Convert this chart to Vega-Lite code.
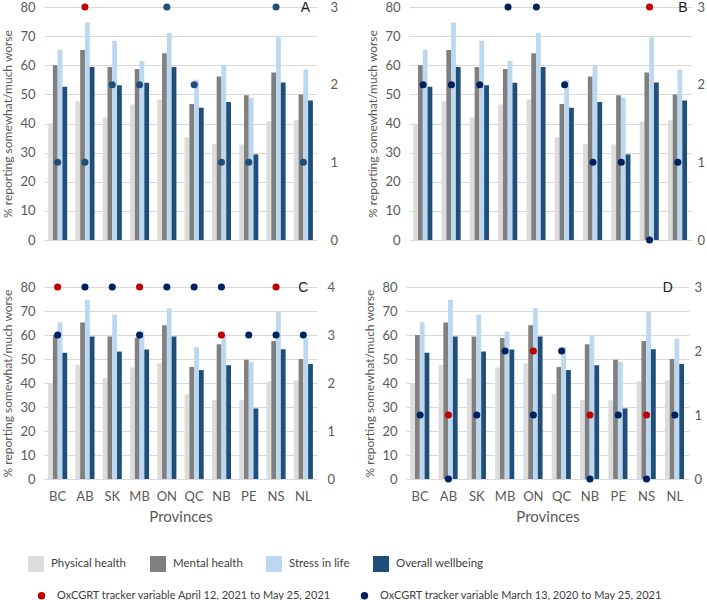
{
  "$schema": "https://vega.github.io/schema/vega-lite/v6.json",
  "padding": {"top": 1, "left": 1, "right": 0, "bottom": 0},
  "background": "white",
  "datasets": {
    "bars": [
      {"province": "BC", "measure": "Physical health", "value": 40.0},
      {"province": "BC", "measure": "Mental health", "value": 60.0},
      {"province": "BC", "measure": "Stress in life", "value": 65.3},
      {"province": "BC", "measure": "Overall wellbeing", "value": 52.6},
      {"province": "AB", "measure": "Physical health", "value": 47.6},
      {"province": "AB", "measure": "Mental health", "value": 65.2},
      {"province": "AB", "measure": "Stress in life", "value": 74.7},
      {"province": "AB", "measure": "Overall wellbeing", "value": 59.4},
      {"province": "SK", "measure": "Physical health", "value": 42.0},
      {"province": "SK", "measure": "Mental health", "value": 59.4},
      {"province": "SK", "measure": "Stress in life", "value": 68.4},
      {"province": "SK", "measure": "Overall wellbeing", "value": 53.1},
      {"province": "MB", "measure": "Physical health", "value": 46.5},
      {"province": "MB", "measure": "Mental health", "value": 58.7},
      {"province": "MB", "measure": "Stress in life", "value": 61.5},
      {"province": "MB", "measure": "Overall wellbeing", "value": 54.0},
      {"province": "ON", "measure": "Physical health", "value": 48.2},
      {"province": "ON", "measure": "Mental health", "value": 64.1},
      {"province": "ON", "measure": "Stress in life", "value": 71.1},
      {"province": "ON", "measure": "Overall wellbeing", "value": 59.4},
      {"province": "QC", "measure": "Physical health", "value": 35.3},
      {"province": "QC", "measure": "Mental health", "value": 46.7},
      {"province": "QC", "measure": "Stress in life", "value": 55.0},
      {"province": "QC", "measure": "Overall wellbeing", "value": 45.4},
      {"province": "NB", "measure": "Physical health", "value": 33.0},
      {"province": "NB", "measure": "Mental health", "value": 56.1},
      {"province": "NB", "measure": "Stress in life", "value": 60.0},
      {"province": "NB", "measure": "Overall wellbeing", "value": 47.4},
      {"province": "PE", "measure": "Physical health", "value": 32.8},
      {"province": "PE", "measure": "Mental health", "value": 49.7},
      {"province": "PE", "measure": "Stress in life", "value": 48.8},
      {"province": "PE", "measure": "Overall wellbeing", "value": 29.4},
      {"province": "NS", "measure": "Physical health", "value": 40.7},
      {"province": "NS", "measure": "Mental health", "value": 57.5},
      {"province": "NS", "measure": "Stress in life", "value": 69.6},
      {"province": "NS", "measure": "Overall wellbeing", "value": 54.1},
      {"province": "NL", "measure": "Physical health", "value": 41.1},
      {"province": "NL", "measure": "Mental health", "value": 50.0},
      {"province": "NL", "measure": "Stress in life", "value": 58.5},
      {"province": "NL", "measure": "Overall wellbeing", "value": 47.9}
    ],
    "dots": [
      {"panel": "A", "province": "BC", "period": "March", "value": 1},
      {"panel": "A", "province": "AB", "period": "April", "value": 3},
      {"panel": "A", "province": "AB", "period": "March", "value": 1},
      {"panel": "A", "province": "SK", "period": "March", "value": 2},
      {"panel": "A", "province": "MB", "period": "March", "value": 2},
      {"panel": "A", "province": "ON", "period": "March", "value": 3},
      {"panel": "A", "province": "QC", "period": "March", "value": 2},
      {"panel": "A", "province": "NB", "period": "March", "value": 1},
      {"panel": "A", "province": "PE", "period": "March", "value": 1},
      {"panel": "A", "province": "NS", "period": "March", "value": 3},
      {"panel": "A", "province": "NL", "period": "March", "value": 1},
      {"panel": "B", "province": "BC", "period": "March", "value": 2},
      {"panel": "B", "province": "AB", "period": "March", "value": 2},
      {"panel": "B", "province": "SK", "period": "March", "value": 2},
      {"panel": "B", "province": "MB", "period": "March", "value": 3},
      {"panel": "B", "province": "ON", "period": "March", "value": 3},
      {"panel": "B", "province": "QC", "period": "March", "value": 2},
      {"panel": "B", "province": "NB", "period": "March", "value": 1},
      {"panel": "B", "province": "PE", "period": "March", "value": 1},
      {"panel": "B", "province": "NS", "period": "April", "value": 3},
      {"panel": "B", "province": "NS", "period": "March", "value": 0},
      {"panel": "B", "province": "NL", "period": "March", "value": 1},
      {"panel": "C", "province": "BC", "period": "April", "value": 4},
      {"panel": "C", "province": "BC", "period": "March", "value": 3},
      {"panel": "C", "province": "AB", "period": "March", "value": 4},
      {"panel": "C", "province": "SK", "period": "March", "value": 4},
      {"panel": "C", "province": "MB", "period": "April", "value": 4},
      {"panel": "C", "province": "MB", "period": "March", "value": 3},
      {"panel": "C", "province": "ON", "period": "March", "value": 4},
      {"panel": "C", "province": "QC", "period": "March", "value": 4},
      {"panel": "C", "province": "NB", "period": "March", "value": 4},
      {"panel": "C", "province": "NB", "period": "April", "value": 3},
      {"panel": "C", "province": "PE", "period": "March", "value": 3},
      {"panel": "C", "province": "NS", "period": "April", "value": 4},
      {"panel": "C", "province": "NS", "period": "March", "value": 3},
      {"panel": "C", "province": "NL", "period": "March", "value": 3},
      {"panel": "D", "province": "BC", "period": "March", "value": 1},
      {"panel": "D", "province": "AB", "period": "April", "value": 1},
      {"panel": "D", "province": "AB", "period": "March", "value": 0},
      {"panel": "D", "province": "SK", "period": "March", "value": 1},
      {"panel": "D", "province": "MB", "period": "March", "value": 2},
      {"panel": "D", "province": "ON", "period": "April", "value": 2},
      {"panel": "D", "province": "ON", "period": "March", "value": 1},
      {"panel": "D", "province": "QC", "period": "March", "value": 2},
      {"panel": "D", "province": "NB", "period": "April", "value": 1},
      {"panel": "D", "province": "NB", "period": "March", "value": 0},
      {"panel": "D", "province": "PE", "period": "March", "value": 1},
      {"panel": "D", "province": "NS", "period": "April", "value": 1},
      {"panel": "D", "province": "NS", "period": "March", "value": 0},
      {"panel": "D", "province": "NL", "period": "March", "value": 1}
    ]
  },
  "config": {
    "view": {"stroke": null},
    "font": "Lato",
    "axis": {
      "labelFont": "Lato",
      "titleFont": "Lato",
      "labelFontSize": 13,
      "labelColor": "#595959",
      "titleColor": "#595959",
      "titleFontSize": 12,
      "titleFontWeight": "normal",
      "ticks": false,
      "domain": false,
      "gridColor": "#D9D9D9",
      "gridWidth": 1
    },
    "legend": {
      "labelFont": "Lato",
      "labelFontSize": 11.5,
      "labelColor": "#404040",
      "padding": 0,
      "labelLimit": 0
    }
  },
  "spacing": 34,
  "vconcat": [
    {
      "spacing": 28,
      "hconcat": [
        {
          "width": 273,
          "height": 233,
          "resolve": {"scale": {"y": "independent"}},
          "layer": [
            {
              "data": {"name": "bars"},
              "mark": {"type": "bar"},
              "encoding": {
                "x": {"field": "province", "type": "nominal", "sort": ["BC","AB","SK","MB","ON","QC","NB","PE","NS","NL"], "scale": {"paddingInner": 0.3, "paddingOuter": 0.15}, "axis": null},
                "xOffset": {"field": "measure", "type": "nominal", "sort": ["Physical health","Mental health","Stress in life","Overall wellbeing"], "scale": {"paddingInner": 0, "paddingOuter": 0}},
                "y": {"field": "value", "type": "quantitative", "stack": null, "scale": {"domain": [0, 80]}, "axis": {"values": [0,10,20,30,40,50,60,70,80], "grid": true, "title": "% reporting somewhat/much worse", "labelPadding": 9, "titlePadding": 5}},
                "color": {"field": "measure", "type": "nominal", "sort": ["Physical health","Mental health","Stress in life","Overall wellbeing"], "scale": {"domain": ["Physical health","Mental health","Stress in life","Overall wellbeing"], "range": ["#DCDCDC","#808080","#BDD7EE","#1F4E79"]}, "legend": {"title": null, "orient": "none", "legendX": -16, "legendY": 549, "direction": "horizontal", "columns": 4, "symbolType": "square", "symbolSize": 256, "symbolStrokeWidth": 0, "labelOffset": 7, "columnPadding": 23}}
              }
            },
            {
              "data": {"name": "dots"},
              "transform": [{"filter": "datum.panel === 'A'"}],
              "mark": {"type": "point", "filled": true, "size": 50, "opacity": 1},
              "encoding": {
                "x": {"field": "province", "type": "nominal", "sort": ["BC","AB","SK","MB","ON","QC","NB","PE","NS","NL"], "axis": null},
                "y": {"field": "value", "type": "quantitative", "scale": {"domain": [0, 3]}, "axis": {"orient": "right", "values": [0,1,2,3], "grid": false, "title": null, "labelPadding": 13}},
                "fill": {"condition": {"test": "datum.period === 'April'", "value": "#C00000"}, "value": "#1F4E79"}
              }
            },
            {
              "data": {"values": [{"letter": "A"}]},
              "mark": {"type": "text", "fontSize": 14, "dx": 2, "dy": 1, "color": "#1a1a1a", "font": "Liberation Sans"},
              "encoding": {
                "x": {"datum": "NL", "type": "nominal", "axis": null},
                "y": {"datum": 80, "type": "quantitative", "scale": {"domain": [0, 80]}, "axis": null},
                "text": {"field": "letter"}
              }
            }
          ]
        },
        {
          "width": 283,
          "height": 233,
          "resolve": {"scale": {"y": "independent"}},
          "layer": [
            {
              "data": {"name": "bars"},
              "mark": {"type": "bar"},
              "encoding": {
                "x": {"field": "province", "type": "nominal", "sort": ["BC","AB","SK","MB","ON","QC","NB","PE","NS","NL"], "scale": {"paddingInner": 0.3, "paddingOuter": 0.15}, "axis": null},
                "xOffset": {"field": "measure", "type": "nominal", "sort": ["Physical health","Mental health","Stress in life","Overall wellbeing"], "scale": {"paddingInner": 0, "paddingOuter": 0}},
                "y": {"field": "value", "type": "quantitative", "stack": null, "scale": {"domain": [0, 80]}, "axis": {"values": [0,10,20,30,40,50,60,70,80], "grid": true, "title": "% reporting somewhat/much worse", "labelPadding": 9, "titlePadding": 5}},
                "color": {"field": "measure", "type": "nominal", "sort": ["Physical health","Mental health","Stress in life","Overall wellbeing"], "scale": {"domain": ["Physical health","Mental health","Stress in life","Overall wellbeing"], "range": ["#DCDCDC","#808080","#BDD7EE","#1F4E79"]}, "legend": {"title": null, "orient": "none", "legendX": -16, "legendY": 549, "direction": "horizontal", "columns": 4, "symbolType": "square", "symbolSize": 256, "symbolStrokeWidth": 0, "labelOffset": 7, "columnPadding": 23}}
              }
            },
            {
              "data": {"name": "dots"},
              "transform": [{"filter": "datum.panel === 'B'"}],
              "mark": {"type": "point", "filled": true, "size": 50, "opacity": 1},
              "encoding": {
                "x": {"field": "province", "type": "nominal", "sort": ["BC","AB","SK","MB","ON","QC","NB","PE","NS","NL"], "axis": null},
                "y": {"field": "value", "type": "quantitative", "scale": {"domain": [0, 3]}, "axis": {"orient": "right", "values": [0,1,2,3], "grid": false, "title": null, "labelPadding": 5}},
                "fill": {"field": "period", "type": "nominal", "scale": {"domain": ["April","March"], "range": ["#C00000","#002060"]}, "legend": {"title": null, "orient": "none", "legendX": -8, "legendY": 583, "direction": "horizontal", "columns": 2, "symbolType": "circle", "symbolSize": 55, "symbolStrokeWidth": 0, "labelOffset": 10, "labelFontSize": 11, "columnPadding": 27, "labelExpr": "datum.label === 'April' ? 'OxCGRT tracker variable April 12, 2021 to May 25, 2021' : 'OxCGRT tracker variable March 13, 2020 to May 25, 2021'", "encode": {"symbols": {"update": {"fill": {"signal": "datum.value === 'March' ? '#44546A' : '#C00000'"}}}}}}
              }
            },
            {
              "data": {"values": [{"letter": "B"}]},
              "mark": {"type": "text", "fontSize": 14, "dx": 5, "dy": 1, "color": "#1a1a1a", "font": "Liberation Sans"},
              "encoding": {
                "x": {"datum": "NL", "type": "nominal", "axis": null},
                "y": {"datum": 80, "type": "quantitative", "scale": {"domain": [0, 80]}, "axis": null},
                "text": {"field": "letter"}
              }
            }
          ]
        }
      ]
    },
    {
      "spacing": 28,
      "hconcat": [
        {
          "width": 273,
          "height": 192,
          "resolve": {"scale": {"y": "independent"}},
          "layer": [
            {
              "data": {"name": "bars"},
              "mark": {"type": "bar"},
              "encoding": {
                "x": {"field": "province", "type": "nominal", "sort": ["BC","AB","SK","MB","ON","QC","NB","PE","NS","NL"], "scale": {"paddingInner": 0.3, "paddingOuter": 0.15}, "axis": {"title": "Provinces", "labelAngle": 0, "labelPadding": 11, "titlePadding": 6, "titleFontSize": 15, "grid": false, "labels": true}},
                "xOffset": {"field": "measure", "type": "nominal", "sort": ["Physical health","Mental health","Stress in life","Overall wellbeing"], "scale": {"paddingInner": 0, "paddingOuter": 0}},
                "y": {"field": "value", "type": "quantitative", "stack": null, "scale": {"domain": [0, 80]}, "axis": {"values": [0,10,20,30,40,50,60,70,80], "grid": true, "title": "% reporting somewhat/much worse", "labelPadding": 9, "titlePadding": 5}},
                "color": {"field": "measure", "type": "nominal", "sort": ["Physical health","Mental health","Stress in life","Overall wellbeing"], "scale": {"domain": ["Physical health","Mental health","Stress in life","Overall wellbeing"], "range": ["#DCDCDC","#808080","#BDD7EE","#1F4E79"]}, "legend": {"title": null, "orient": "none", "legendX": -16, "legendY": 549, "direction": "horizontal", "columns": 4, "symbolType": "square", "symbolSize": 256, "symbolStrokeWidth": 0, "labelOffset": 7, "columnPadding": 23}}
              }
            },
            {
              "data": {"name": "dots"},
              "transform": [{"filter": "datum.panel === 'C'"}],
              "mark": {"type": "point", "filled": true, "size": 50, "opacity": 1},
              "encoding": {
                "x": {"field": "province", "type": "nominal", "sort": ["BC","AB","SK","MB","ON","QC","NB","PE","NS","NL"], "axis": {"title": "Provinces", "labelAngle": 0, "labelPadding": 11, "titlePadding": 6, "titleFontSize": 15, "grid": false, "labels": true}},
                "y": {"field": "value", "type": "quantitative", "scale": {"domain": [0, 4]}, "axis": {"orient": "right", "values": [0,1,2,3,4], "grid": false, "title": null, "labelPadding": 10}},
                "fill": {"field": "period", "type": "nominal", "scale": {"domain": ["April","March"], "range": ["#C00000","#002060"]}, "legend": {"title": null, "orient": "none", "legendX": -8, "legendY": 583, "direction": "horizontal", "columns": 2, "symbolType": "circle", "symbolSize": 55, "symbolStrokeWidth": 0, "labelOffset": 10, "labelFontSize": 11, "columnPadding": 27, "labelExpr": "datum.label === 'April' ? 'OxCGRT tracker variable April 12, 2021 to May 25, 2021' : 'OxCGRT tracker variable March 13, 2020 to May 25, 2021'", "encode": {"symbols": {"update": {"fill": {"signal": "datum.value === 'March' ? '#44546A' : '#C00000'"}}}}}}
              }
            },
            {
              "data": {"values": [{"letter": "C"}]},
              "mark": {"type": "text", "fontSize": 14, "dx": 0, "dy": 1, "color": "#1a1a1a", "font": "Liberation Sans"},
              "encoding": {
                "x": {"datum": "NL", "type": "nominal", "axis": {"title": "Provinces", "labelAngle": 0, "labelPadding": 11, "titlePadding": 6, "titleFontSize": 15, "grid": false, "labels": true}},
                "y": {"datum": 80, "type": "quantitative", "scale": {"domain": [0, 80]}, "axis": null},
                "text": {"field": "letter"}
              }
            }
          ]
        },
        {
          "width": 283,
          "height": 192,
          "resolve": {"scale": {"y": "independent"}},
          "layer": [
            {
              "data": {"name": "bars"},
              "mark": {"type": "bar"},
              "encoding": {
                "x": {"field": "province", "type": "nominal", "sort": ["BC","AB","SK","MB","ON","QC","NB","PE","NS","NL"], "scale": {"paddingInner": 0.3, "paddingOuter": 0.15}, "axis": {"title": "Provinces", "labelAngle": 0, "labelPadding": 11, "titlePadding": 6, "titleFontSize": 15, "grid": false, "labels": true}},
                "xOffset": {"field": "measure", "type": "nominal", "sort": ["Physical health","Mental health","Stress in life","Overall wellbeing"], "scale": {"paddingInner": 0, "paddingOuter": 0}},
                "y": {"field": "value", "type": "quantitative", "stack": null, "scale": {"domain": [0, 80]}, "axis": {"values": [0,10,20,30,40,50,60,70,80], "grid": true, "title": "% reporting somewhat/much worse", "labelPadding": 9, "titlePadding": 5}},
                "color": {"field": "measure", "type": "nominal", "sort": ["Physical health","Mental health","Stress in life","Overall wellbeing"], "scale": {"domain": ["Physical health","Mental health","Stress in life","Overall wellbeing"], "range": ["#DCDCDC","#808080","#BDD7EE","#1F4E79"]}, "legend": {"title": null, "orient": "none", "legendX": -16, "legendY": 549, "direction": "horizontal", "columns": 4, "symbolType": "square", "symbolSize": 256, "symbolStrokeWidth": 0, "labelOffset": 7, "columnPadding": 23}}
              }
            },
            {
              "data": {"name": "dots"},
              "transform": [{"filter": "datum.panel === 'D'"}],
              "mark": {"type": "point", "filled": true, "size": 50, "opacity": 1},
              "encoding": {
                "x": {"field": "province", "type": "nominal", "sort": ["BC","AB","SK","MB","ON","QC","NB","PE","NS","NL"], "axis": {"title": "Provinces", "labelAngle": 0, "labelPadding": 11, "titlePadding": 6, "titleFontSize": 15, "grid": false, "labels": true}},
                "y": {"field": "value", "type": "quantitative", "scale": {"domain": [0, 3]}, "axis": {"orient": "right", "values": [0,1,2,3], "grid": false, "title": null, "labelPadding": 5}},
                "fill": {"field": "period", "type": "nominal", "scale": {"domain": ["April","March"], "range": ["#C00000","#002060"]}, "legend": {"title": null, "orient": "none", "legendX": -8, "legendY": 583, "direction": "horizontal", "columns": 2, "symbolType": "circle", "symbolSize": 55, "symbolStrokeWidth": 0, "labelOffset": 10, "labelFontSize": 11, "columnPadding": 27, "labelExpr": "datum.label === 'April' ? 'OxCGRT tracker variable April 12, 2021 to May 25, 2021' : 'OxCGRT tracker variable March 13, 2020 to May 25, 2021'", "encode": {"symbols": {"update": {"fill": {"signal": "datum.value === 'March' ? '#44546A' : '#C00000'"}}}}}}
              }
            },
            {
              "data": {"values": [{"letter": "D"}]},
              "mark": {"type": "text", "fontSize": 14, "dx": -7, "dy": 1, "color": "#1a1a1a", "font": "Liberation Sans"},
              "encoding": {
                "x": {"datum": "NL", "type": "nominal", "axis": {"title": "Provinces", "labelAngle": 0, "labelPadding": 11, "titlePadding": 6, "titleFontSize": 15, "grid": false, "labels": true}},
                "y": {"datum": 80, "type": "quantitative", "scale": {"domain": [0, 80]}, "axis": null},
                "text": {"field": "letter"}
              }
            }
          ]
        }
      ]
    }
  ]
}
